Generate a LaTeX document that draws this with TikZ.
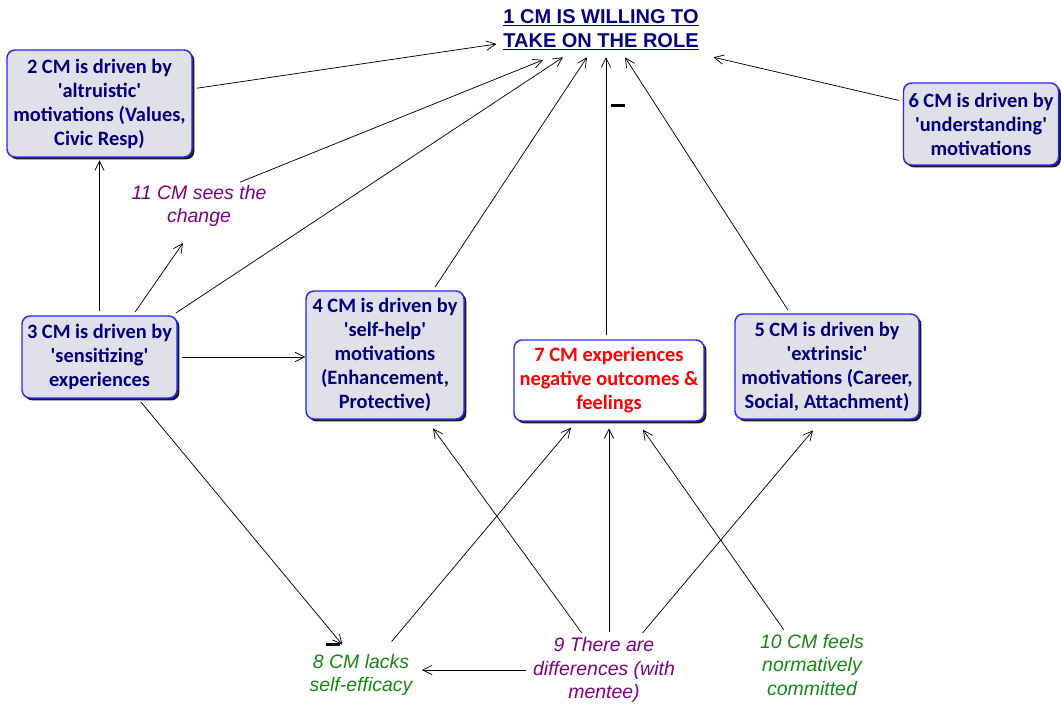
\documentclass[tikz,border=0pt]{standalone}
\usepackage{fontspec}
\setmainfont{Carlito}
\newfontfamily\arialfont{Liberation Sans}
\usetikzlibrary{shadows}
\usetikzlibrary{arrows.meta}
\definecolor{boxfill}{RGB}{224,224,232}
\definecolor{boxline}{RGB}{40,40,255}
\definecolor{navytext}{RGB}{0,0,128}
\definecolor{purpletext}{RGB}{128,0,128}
\definecolor{greentext}{RGB}{20,135,20}
\newcommand{\qt}[1]{\textquotesingle#1\textquotesingle}

\begin{document}
\begin{tikzpicture}[x=0.75pt, y=-0.75pt,
          >={Straight Barb[length=7pt,width=7pt]},
          factor/.style = {draw=boxline, line width=1.1pt, fill=boxfill, rounded corners=6pt,
            align=center, text=navytext, inner sep=2pt,
            font=\fontsize{15.3}{18}\selectfont\bfseries,
            drop shadow={shadow xshift=1.8pt, shadow yshift=-1.8pt, fill=black, opacity=0.9}},
          note/.style = {align=center, inner sep=1pt,
            font=\arialfont\itshape\fontsize{14.6}{17.5}\selectfont},
          link/.style = {->, line width=0.55pt, shorten <=3pt},
          minusbar/.style = {fill=black, minimum width=10.5pt, minimum height=2.2pt, inner sep=0pt}
          ]
          \useasboundingbox (0,0) rectangle (1061,707);

          % outcome
          \node[font=\arialfont\bfseries\fontsize{15}{18}\selectfont, text=navytext, align=center,
            minimum width=150pt, minimum height=40.5pt, inner sep=2pt] (t) at (601,30)
            {\underline{1 CM IS WILLING TO}\\\underline{TAKE ON THE ROLE}};

          % motivations
          \node[factor, minimum width=138.75pt, minimum height=80.25pt] (n2) at (99.5,103.5)
            {2 CM is driven by\\\qt{altruistic}\\motivations (Values,\\Civic Resp)};
          \node[factor, minimum width=116.25pt, minimum height=61.5pt] (n6) at (981,124)
            {6 CM is driven by\\\qt{understanding}\\motivations};
          \node[factor, minimum width=116.25pt, minimum height=61.5pt] (n3) at (99.5,357)
            {3 CM is driven by\\\qt{sensitizing}\\experiences};
          \node[factor, minimum width=118.5pt, minimum height=96pt] (n4) at (385,355)
            {4 CM is driven by\\\qt{self-help}\\motivations\\(Enhancement,\\Protective)};
          \node[factor, fill=white, text=red, minimum width=142.5pt, minimum height=60.75pt] (n7) at (609,380.5)
            {7 CM experiences\\negative outcomes \&\\feelings};
          \node[factor, minimum width=138pt, minimum height=78.75pt] (n5) at (827,366.5)
            {5 CM is driven by\\\qt{extrinsic}\\motivations (Career,\\Social, Attachment)};

          % free text
          \node[note, text=purpletext] (n11) at (199,206) {11 CM sees the\\change};
          \node[note, text=greentext] (n8) at (361,675) {8 CM lacks\\self-efficacy};
          \node[note, text=purpletext] (n9) at (604,670) {9 There are\\differences (with\\mentee)};
          \node[note, text=greentext] (n10) at (812,665) {10 CM feels\\normatively\\committed};

          % links into 1
          \draw[link] ([yshift=11pt]n2.east) -- ([xshift=-3pt,yshift=-10.5pt]t.west);
          \draw[link] ([xshift=28pt]n11.north) -- ([xshift=-43.5pt,yshift=-2pt]t.south);
          \draw[link] ([xshift=-4pt]n3.north east) -- ([xshift=-28.5pt]t.south);
          \draw[link] ([xshift=36pt]n4.north) -- ([xshift=-10.5pt]t.south);
          \draw[link] ([xshift=-2.25pt]n7.north) -- ([xshift=3.75pt]t.south)
            node[minusbar, pos=0.83, xshift=9pt] {};
          \draw[link] ([xshift=-27.75pt]n5.north) -- ([xshift=18pt]t.south);
          \draw[link] ([yshift=17pt]n6.west) -- ([xshift=9pt]t.south east);

          % links from 3
          \draw[link, shorten >=2pt] (n3.north) -- (n2.south);
          \draw[link] ([xshift=25pt]n3.north) -- ([xshift=-12pt,yshift=-11pt]n11.south);
          \draw[link] (n3.east) -- (n3.east -| n4.west);
          \draw[link] ([xshift=29pt]n3.south) -- ([xshift=-14pt,yshift=6pt]n8.north)
            node[minusbar, pos=1, xshift=-7pt] {};

          % links from the lower notes
          \draw[link] ([xshift=21pt,yshift=6pt]n8.north) -- ([xshift=-28.5pt,yshift=-4.5pt]n7.south);
          \draw[link] ([xshift=-15pt]n9.north) -- ([xshift=36pt,yshift=-6.5pt]n4.south);
          \draw[link] (n9.north -| n7.south) -- ([yshift=-5pt]n7.south);
          \draw[link] ([xshift=27pt]n9.north) -- ([xshift=-10.5pt,yshift=-8pt]n5.south);
          \draw[link] ([xshift=-19.5pt]n10.north) -- ([xshift=25.5pt,yshift=-6pt]n7.south);
          \draw[link, shorten <=4pt, shorten >=6pt] (n9.west) -- (n9.west -| n8.east);
        \end{tikzpicture}
\end{document}
